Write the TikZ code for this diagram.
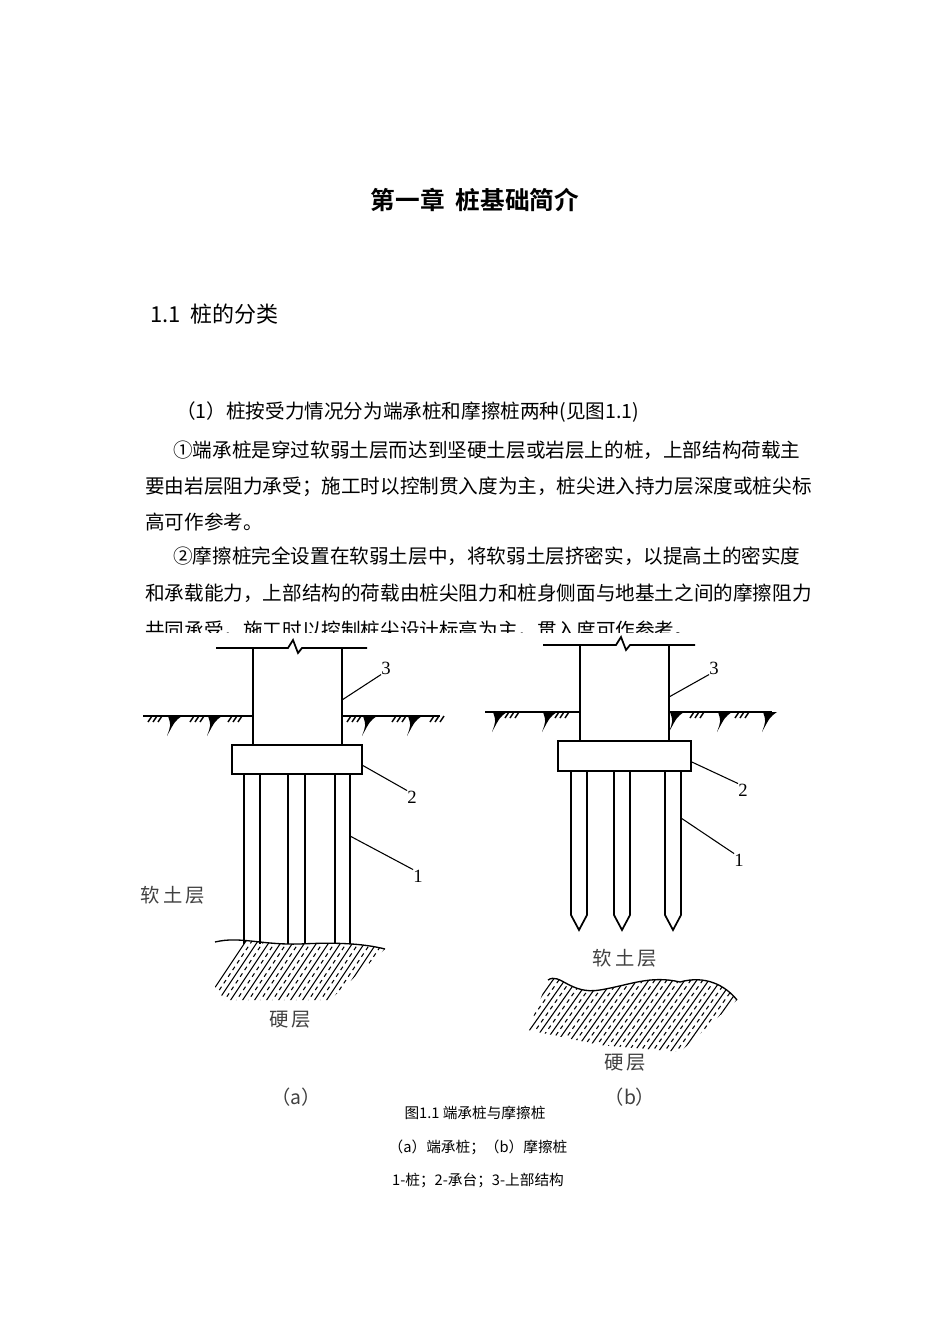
\documentclass[tikz,border=0pt]{standalone}
\usepackage{fontspec}
\newfontfamily\cjk{Noto Sans CJK SC}
\newfontfamily\cjkb{Noto Sans CJK SC Bold}
\setmainfont{Liberation Serif}
\begin{document}
\begin{tikzpicture}[x=0.75pt,y=-0.75pt,
  body/.style={anchor=west,inner sep=0,font=\cjk\fontsize{14.7}{16}\selectfont},
  captext/.style={inner sep=0,font=\cjk\fontsize{11}{13}\selectfont},
  lbl/.style={inner sep=0,font=\fontsize{14}{16}\selectfont},
  soil/.style={inner sep=0,font=\cjk\fontsize{14.5}{16}\selectfont,text=black!75},
  ln/.style={line width=1.3pt},
  lead/.style={line width=0.8pt}]
\useasboundingbox (0,0) rectangle (950,1344);
\fill[white] (0,0) rectangle (950,1344);
\node[inner sep=0,font=\cjkb\fontsize{18.5}{20}\selectfont] (title) at (475,200) {第一章\ \ 桩基础简介};
\node[inner sep=0,anchor=west,font=\cjk\fontsize{16.5}{18}\selectfont] (h11) at (150,314) {1.1\ \ 桩的分类};
\node[body] (p1) at (176,412) {（1）桩按受力情况分为端承桩和摩擦桩两种(见图1.1)};
\node[body] (p2) at (173,450) {①端承桩是穿过软弱土层而达到坚硬土层或岩层上的桩，上部结构荷载主};
\node[body] (p3) at (145,487) {要由岩层阻力承受；施工时以控制贯入度为主，桩尖进入持力层深度或桩尖标};
\node[body] (p4) at (145,522) {高可作参考。};
\node[body] (p5) at (173,556) {②摩擦桩完全设置在软弱土层中，将软弱土层挤密实，以提高土的密实度};
\node[body] (p6) at (145,593) {和承载能力，上部结构的荷载由桩尖阻力和桩身侧面与地基土之间的摩擦阻力};
\node[body] (p7) at (145,630) {共同承受，施工时以控制桩尖设计标高为主，贯入度可作参考。};
\fill[white] (120,633) rectangle (820,1105);
% ---------- (a)
\draw[ln] (216,648) -- (288,648) -- (293,640) -- (298,653) -- (302,648) -- (367,648);
\draw[ln] (253,648) -- (253,745) (342,648) -- (342,745);
\node[draw,ln,minimum width=130*0.75pt,minimum height=29*0.75pt,inner sep=0] (capa) at (297,759.5) {};
\draw[ln] (143,716) -- (253,716) (342,716) -- (440,716);
\foreach \x in {148,190,228,347,392,430}{
  \draw[line width=1.1pt] (\x,722) -- (\x+4,716) (\x+5,722) -- (\x+9,716) (\x+10,722)--(\x+14,716);}
\foreach \x in {170,210,365,410}{
  \fill (\x-2,716) -- (\x+12,716) .. controls (\x+5,721) .. (\x-3,736) .. controls (\x+1,725) .. (\x-2,716);}
\foreach \x in {244,260,288,305,335,350}{\draw[ln] (\x,774) -- (\x,944);}
\begin{scope}
\clip (215,942) .. controls (240,936) and (260,945) .. (300,944) .. controls (340,942) and (365,944) .. (385,949) -- (330,1000) -- (225,1000) -- (210,980) -- cycle;
\foreach \i in {0,...,16}{\draw[line width=0.8pt] (200+\i*12,1010) -- (250+\i*12,935);
  \draw[line width=0.8pt,dashed] (206+\i*12,1010) -- (256+\i*12,935);}
\end{scope}
\draw[line width=1pt] (215,942) .. controls (240,936) and (260,945) .. (300,944) .. controls (340,942) and (365,944) .. (385,949);
\node[lbl] (l3a) at (386,668) {3};
\node[lbl] (l2a) at (412,797) {2};
\node[lbl] (l1a) at (418,876) {1};
\draw[lead] (342,700) -- (l3a.south west);
\draw[lead] (capa.east) ++(0,6) -- (l2a.north west);
\draw[lead] (350,836) -- (l1a.north west);
\node[soil] (sa) at (173,895) {软\,土\,层};
\node[soil] (ha) at (290,1020) {硬\,层};
\node[soil] (ca) at (296,1097) {（\textit{a}）};
% ---------- (b)
\draw[ln] (543,645) -- (616,645) -- (621,637) -- (626,650) -- (630,645) -- (695,645);
\draw[ln] (580,645) -- (580,741) (669,645) -- (669,741);
\node[draw,ln,minimum width=133*0.75pt,minimum height=30*0.75pt,inner sep=0] (capb) at (624.5,756) {};
\draw[ln] (485,712) -- (580,712) (669,712) -- (772,712);
\foreach \x in {505,555,690,735}{
  \draw[line width=1.1pt] (\x,718) -- (\x+4,712) (\x+5,718) -- (\x+9,712) (\x+10,718)--(\x+14,712);}
\foreach \x in {495,545,672,720,765}{
  \fill (\x-2,712) -- (\x+12,712) .. controls (\x+5,717) .. (\x-3,732) .. controls (\x+1,721) .. (\x-2,712);}
\foreach \x in {571,614,665}{
  \draw[ln] (\x,771) -- (\x,915) -- (\x+8,930) -- (\x+16,915) -- (\x+16,771);}
\begin{scope}
\clip (548,980) .. controls (560,972) and (570,995) .. (600,990) .. controls (630,985) and (650,975) .. (680,982) .. controls (705,975) and (725,985) .. (737,1000) -- (680,1052) -- (600,1045) -- (528,1030) -- cycle;
\foreach \i in {0,...,20}{\draw[line width=0.8pt] (500+\i*12,1055) -- (560+\i*12,970);
  \draw[line width=0.8pt,dashed] (506+\i*12,1055) -- (566+\i*12,970);}
\end{scope}
\draw[line width=1pt] (548,980) .. controls (560,972) and (570,995) .. (600,990) .. controls (630,985) and (650,975) .. (680,982) .. controls (705,975) and (725,985) .. (737,1000);
\node[lbl] (l3b) at (714,668) {3};
\node[lbl] (l2b) at (743,790) {2};
\node[lbl] (l1b) at (739,860) {1};
\draw[lead] (669,697) -- (l3b.south west);
\draw[lead] (capb.east) ++(0,6) -- (l2b.north west);
\draw[lead] (681,818) -- (l1b.north west);
\node[soil] (sb) at (625,958) {软\,土\,层};
\node[soil] (hb) at (625,1063) {硬\,层};
\node[soil] (cb) at (630,1097) {（\textit{b}）};
% captions
\node[captext] (c1) at (475,1113) {图1.1\ 端承桩与摩擦桩};
\node[captext] (c2) at (478,1147) {（a）端承桩；（b）摩擦桩};
\node[captext] (c3) at (478,1180) {1-桩；2-承台；3-上部结构};
\end{tikzpicture}
\end{document}
